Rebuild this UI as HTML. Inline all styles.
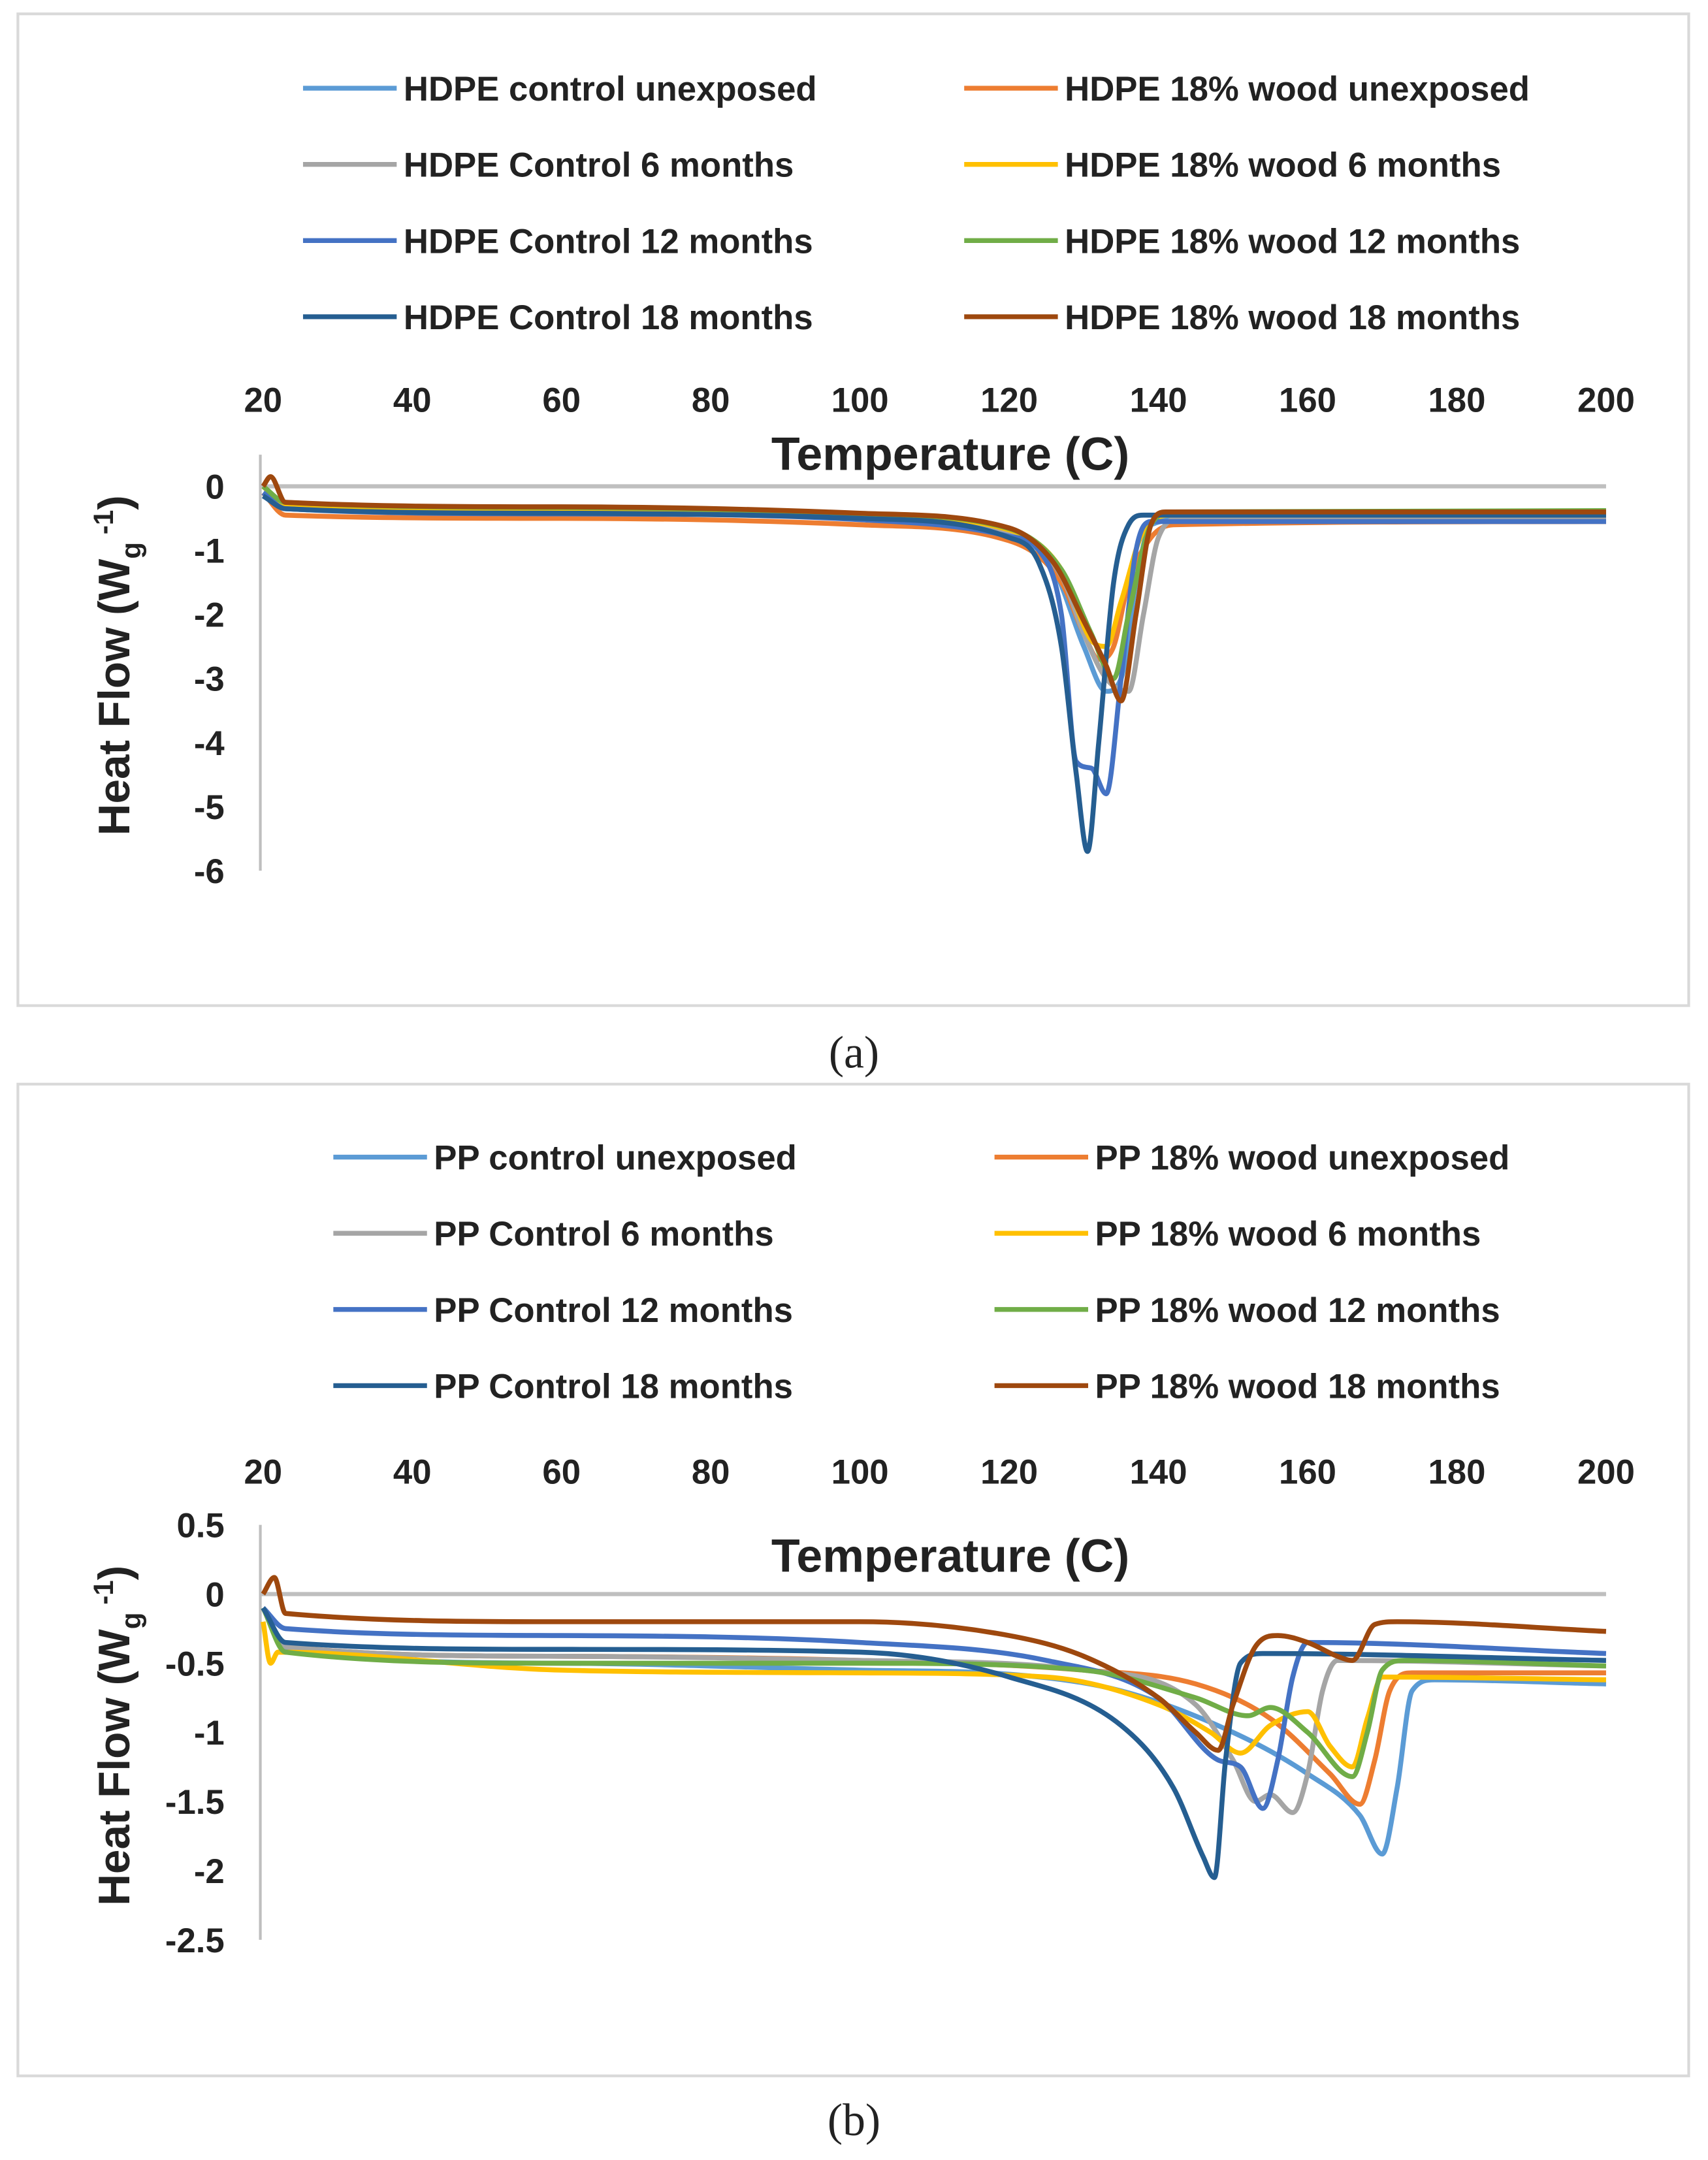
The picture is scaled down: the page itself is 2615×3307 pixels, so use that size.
<!DOCTYPE html>
<html><head><meta charset="utf-8"><style>
body{margin:0;background:#fff}
svg{display:block}
text{font-family:"Liberation Sans",sans-serif;font-weight:bold;fill:#222}
</style></head><body>
<svg id="fig" width="2615" height="3307" viewBox="0 0 1240 1568" xmlns="http://www.w3.org/2000/svg">
<rect x="13" y="10" width="1213" height="720" fill="#fff" stroke="#d9d9d9" stroke-width="2"/>
<rect x="13" y="787" width="1213" height="720" fill="#fff" stroke="#d9d9d9" stroke-width="2"/>
<text x="620" y="775" text-anchor="middle" style="font-family:'Liberation Serif',serif;font-weight:normal;font-size:33px">(a)</text>
<text x="620" y="1550" text-anchor="middle" style="font-family:'Liberation Serif',serif;font-weight:normal;font-size:33px">(b)</text>
<g id="ga"></g><g id="gb"></g>
</svg>
<script>
const xTicks=[20,40,60,80,100,120,140,160,180,200];
const colors=['#5B9BD5','#ED7D31','#A5A5A5','#FFC000','#4472C4','#70AD47','#255E91','#9E480E'];
const namesA=['HDPE control unexposed','HDPE 18% wood unexposed','HDPE Control 6 months','HDPE 18% wood 6 months','HDPE Control 12 months','HDPE 18% wood 12 months','HDPE Control 18 months','HDPE 18% wood 18 months'];
const namesB=['PP control unexposed','PP 18% wood unexposed','PP Control 6 months','PP 18% wood 6 months','PP Control 12 months','PP 18% wood 12 months','PP Control 18 months','PP 18% wood 18 months'];
const yTicksA=[0,-1,-2,-3,-4,-5,-6];
const yTicksB=[0.5,0,-0.5,-1,-1.5,-2,-2.5];
const hdpeCtrlUnexp=[[20,-0.1],[23,-0.35],[60,-0.42],[100,-0.5],[120,-0.75],[126,-1.3],[130,-2.5],[133,-3.2],[135,-3.0],[137,-1.5],[139,-0.6],[145,-0.5],[200,-0.5]];
const hdpeWoodUnexp=[[20,-0.1],[23,-0.45],[60,-0.5],[100,-0.6],[120,-0.85],[127,-1.5],[130,-2.3],[132,-2.7],[134,-2.5],[136,-1.5],[139,-0.8],[142,-0.6],[200,-0.55]];
const hdpeCtrl6=[[20,0],[23,-0.3],[60,-0.38],[100,-0.48],[120,-0.72],[127,-1.4],[130,-2.3],[133,-3.0],[136,-3.2],[138,-2.0],[140,-0.8],[143,-0.5],[200,-0.5]];
const hdpeWood6=[[20,0],[23,-0.27],[60,-0.35],[100,-0.45],[120,-0.68],[127,-1.3],[131,-2.4],[133,-2.5],[135,-1.8],[138,-0.7],[142,-0.45],[200,-0.45]];
const hdpeCtrl12=[[20,-0.1],[23,-0.35],[60,-0.43],[100,-0.52],[120,-0.78],[124,-1.0],[127,-2.0],[129,-4.3],[131,-4.4],[133,-4.8],[135,-3.0],[137,-1.0],[139,-0.55],[200,-0.55]];
const hdpeWood12=[[20,0],[23,-0.25],[60,-0.33],[100,-0.43],[120,-0.66],[127,-1.3],[131,-2.3],[134,-3.0],[136,-2.0],[139,-0.6],[142,-0.4],[200,-0.38]];
const hdpeCtrl18=[[20,-0.15],[23,-0.35],[60,-0.42],[100,-0.5],[120,-0.8],[124,-1.2],[127,-2.5],[129,-4.5],[130.5,-5.7],[132,-4.0],[134,-1.5],[136,-0.6],[138,-0.45],[200,-0.45]];
const hdpeWood18=[[20,0],[21,0.15],[23,-0.25],[60,-0.32],[100,-0.42],[120,-0.65],[126,-1.2],[130,-2.1],[133,-2.8],[135,-3.35],[137,-2.0],[139,-0.6],[141,-0.4],[200,-0.4]];
const ppCtrlUnexp=[[20,-0.1],[23,-0.4],[60,-0.5],[100,-0.55],[120,-0.58],[135,-0.7],[150,-1.0],[160,-1.3],[167,-1.6],[170,-1.88],[172,-1.4],[174,-0.7],[177,-0.62],[200,-0.65]];
const ppWoodUnexp=[[20,-0.1],[23,-0.38],[60,-0.45],[100,-0.48],[130,-0.55],[145,-0.65],[155,-0.9],[163,-1.3],[167,-1.52],[169,-1.2],[171,-0.7],[174,-0.57],[200,-0.57]];
const ppCtrl6=[[20,-0.1],[23,-0.38],[60,-0.45],[100,-0.48],[130,-0.55],[145,-0.8],[150,-1.2],[153,-1.5],[155,-1.45],[158,-1.58],[160,-1.3],[162,-0.7],[164,-0.48],[200,-0.52]];
const ppWood6=[[20,-0.2],[21,-0.5],[22,-0.42],[60,-0.55],[100,-0.57],[125,-0.6],[140,-0.8],[147,-1.0],[151,-1.15],[155,-0.95],[160,-0.85],[163,-1.1],[166,-1.25],[168,-0.9],[170,-0.6],[200,-0.62]];
const ppCtrl12=[[20,-0.1],[23,-0.25],[60,-0.3],[100,-0.35],[125,-0.48],[140,-0.75],[148,-1.2],[151,-1.25],[154,-1.55],[156,-1.2],[158,-0.6],[160,-0.35],[200,-0.43]];
const ppWood12=[[20,-0.1],[23,-0.42],[60,-0.5],[100,-0.5],[130,-0.55],[145,-0.75],[152,-0.88],[155,-0.82],[160,-1.0],[166,-1.32],[168,-1.0],[170,-0.55],[173,-0.48],[200,-0.52]];
const ppCtrl18=[[20,-0.1],[23,-0.35],[60,-0.4],[100,-0.42],[120,-0.6],[135,-0.95],[142,-1.4],[146,-1.9],[147.5,-2.05],[149,-1.2],[151,-0.5],[154,-0.43],[200,-0.48]];
const ppWood18=[[20,0],[21.5,0.12],[23,-0.14],[60,-0.2],[100,-0.2],[120,-0.3],[130,-0.45],[140,-0.75],[145,-1.0],[148,-1.13],[150,-0.8],[153,-0.38],[156,-0.3],[160,-0.35],[164,-0.45],[166,-0.48],[169,-0.22],[172,-0.2],[200,-0.27]];
const seriesA=[hdpeCtrlUnexp,hdpeWoodUnexp,hdpeCtrl6,hdpeWood6,hdpeCtrl12,hdpeWood12,hdpeCtrl18,hdpeWood18];
const seriesB=[ppCtrlUnexp,ppWoodUnexp,ppCtrl6,ppWood6,ppCtrl12,ppWood12,ppCtrl18,ppWood18];
const NS='http://www.w3.org/2000/svg';
function mk(g,tag,attrs,txt){const e=document.createElementNS(NS,tag);for(const k in attrs)e.setAttribute(k,attrs[k]);if(txt!=null)e.textContent=txt;g.appendChild(e);return e;}
// monotone cubic (Fritsch-Carlson) in x
function path(p){const n=p.length,d=[],m=new Array(n);
  for(let i=0;i<n-1;i++)d.push((p[i+1][1]-p[i][1])/(p[i+1][0]-p[i][0]));
  m[0]=d[0];m[n-1]=d[n-2];
  for(let i=1;i<n-1;i++){m[i]=(d[i-1]*d[i]<=0)?0:(d[i-1]+d[i])/2;}
  for(let i=0;i<n-1;i++){if(d[i]===0){m[i]=0;m[i+1]=0;continue;}const a=m[i]/d[i],b=m[i+1]/d[i],s=a*a+b*b;if(s>9){const t=3/Math.sqrt(s);m[i]=t*a*d[i];m[i+1]=t*b*d[i];}}
  let s='M'+p[0][0].toFixed(2)+','+p[0][1].toFixed(2);
  for(let i=0;i<n-1;i++){const h=(p[i+1][0]-p[i][0])/3;
    s+=' C'+(p[i][0]+h).toFixed(2)+','+(p[i][1]+m[i]*h).toFixed(2)+' '+(p[i+1][0]-h).toFixed(2)+','+(p[i+1][1]-m[i+1]*h).toFixed(2)+' '+p[i+1][0].toFixed(2)+','+p[i+1][1].toFixed(2);}
  return s;}
function panel(g,names,series,yTicks,cfg){
  const x=t=>191+(t-20)*(1166-191)/180;
  const y=v=>cfg.y0+(cfg.yTop-v)*cfg.ppu;
  names.forEach((n,i)=>{const col=i%2,row=Math.floor(i/2);const lx=col?cfg.lx2:cfg.lx1,ly=cfg.ly+row*55.3;
    const le=mk(g,'g',{});
    
    
    mk(le,'line',{x1:lx,x2:lx+68,y1:ly,y2:ly,stroke:colors[i],'stroke-width':3.5});
    mk(le,'text',{x:lx+73,y:ly+9,'font-size':25},n);});
  xTicks.forEach(t=>{const e=mk(g,'text',{x:x(t),y:cfg.xt,'text-anchor':'middle','font-size':25},t);
    
    });
  const xt=mk(g,'text',{x:690,y:cfg.tt,'text-anchor':'middle','font-size':34},'Temperature (C)');
  
  
  yTicks.forEach(v=>{const e=mk(g,'text',{x:163,y:y(v)+9,'text-anchor':'end','font-size':25},v);
    
    });
  const yb=y(yTicks[yTicks.length-1]);
  const ax=mk(g,'line',{x1:189,x2:189,y1:cfg.axTop,y2:yb,stroke:'#bfbfbf','stroke-width':2});
  
  
  const zl=mk(g,'line',{x1:189,x2:1166,y1:y(0),y2:y(0),stroke:'#bfbfbf','stroke-width':3});
  
  
  const ty=mk(g,'text',{x:0,y:0,'text-anchor':'middle','font-size':32,transform:'translate(94,'+cfg.yt+') rotate(-90)'});
  
  
  ty.innerHTML='Heat Flow (W<tspan font-size="20" dy="8">g</tspan><tspan font-size="20" dy="-20"> -1</tspan><tspan dy="12">)</tspan>';
  series.forEach((s,i)=>{const p=mk(g,'path',{d:path(s.map(q=>[x(q[0]),y(q[1])])),fill:'none',stroke:colors[i],'stroke-width':3.6,'stroke-linejoin':'round'});
    
    });
}
panel(document.getElementById('ga'),namesA,seriesA,yTicksA,{y0:353,yTop:0,ppu:46.5,lx1:220,lx2:700,ly:64,xt:299,tt:341,yt:483,axTop:330});
panel(document.getElementById('gb'),namesB,seriesB,yTicksB,{y0:1107,yTop:0.5,ppu:100.4,lx1:242,lx2:722,ly:840,xt:1077,tt:1141,yt:1260,axTop:1107});
</script>
</body></html>
